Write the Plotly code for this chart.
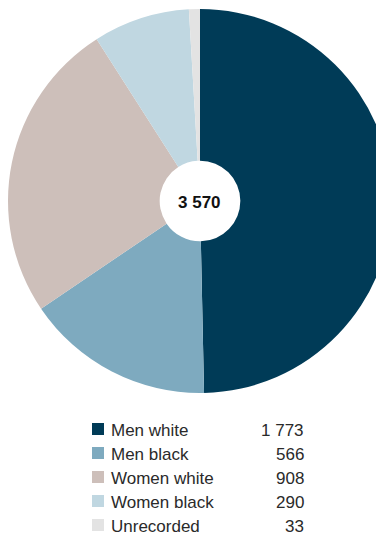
import plotly.graph_objects as go

categories = ["Men white", "Men black", "Women white", "Women black", "Unrecorded"]
values = [1773, 566, 908, 290, 33]
colors = ["#003b57", "#7eaabf", "#cdbfba", "#c0d7e1", "#e3e3e3"]

def fmt(v):
    return f"{v:,}".replace(",", " ")

W, H = 384, 535
OFF = 8  # page body margin offset
total = sum(values)

def px(x):
    return (x - OFF) / W

def py(y):
    return 1 - (y - OFF) / H

fig = go.Figure(go.Pie(
    labels=categories,
    values=values,
    marker=dict(colors=colors, line=dict(width=0)),
    sort=False,
    direction="clockwise",
    rotation=0,
    hole=0.21,
    textinfo="none",
    hoverinfo="label+value",
    domain=dict(x=[0, 1], y=[py(201 + 192), py(201 - 192)]),
    showlegend=False,
))

fig.add_annotation(
    x=0.5 - 1 / W, y=py(203), xref="paper", yref="paper",
    text="<b>" + fmt(total) + "</b>", showarrow=False,
    font=dict(family="Liberation Sans, Arial", size=17, color="#111111"),
    xanchor="center", yanchor="middle",
)

shapes = []
row0, step = 429, 24
for i, (cat, val, col) in enumerate(zip(categories, values, colors)):
    yc = row0 + i * step
    shapes.append(dict(type="rect", xref="paper", yref="paper",
                       x0=px(92), x1=px(104), y0=py(yc + 6), y1=py(yc - 6),
                       fillcolor=col, line=dict(width=0)))
    fig.add_annotation(x=px(109), y=py(yc + 1), xref="paper", yref="paper",
                       text=cat, showarrow=False, xanchor="left", yanchor="middle",
                       font=dict(family="Liberation Sans, Arial", size=17, color="#2a2a2a"))
    fig.add_annotation(x=px(306), y=py(yc + 1), xref="paper", yref="paper",
                       text=fmt(val), showarrow=False, xanchor="right", yanchor="middle",
                       font=dict(family="Liberation Sans, Arial", size=17, color="#2a2a2a"))

fig.update_layout(
    width=W, height=H,
    margin=dict(l=0, r=0, t=0, b=0),
    paper_bgcolor="white", plot_bgcolor="white",
    shapes=shapes,
)

fig.write_html("out.html")
